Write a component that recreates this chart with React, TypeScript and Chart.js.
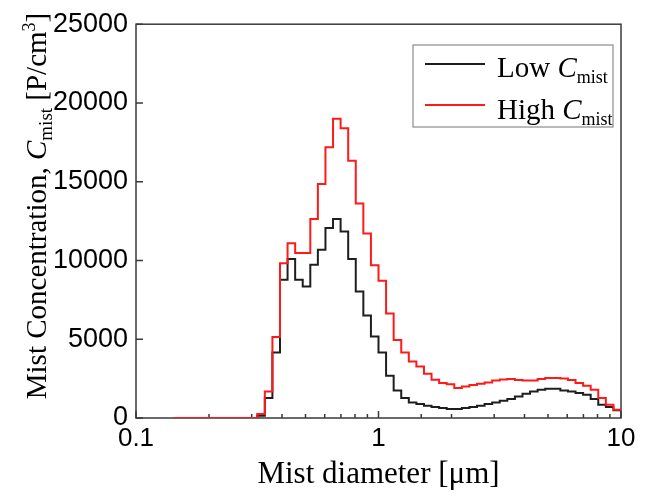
import { useEffect, useRef } from 'react';
import { Chart, registerables } from 'chart.js';

Chart.register(...registerables);

// Bin lower edges (µm), last entry is the upper edge of the last bin
const binEdges = [
  0.1433, 0.154, 0.1655, 0.1778, 0.1911, 0.2054, 0.2207, 0.2371, 0.2548, 0.2738,
  0.2943, 0.3162, 0.3398, 0.3652, 0.3924, 0.4217, 0.4532, 0.487, 0.5233, 0.5623,
  0.6043, 0.6494, 0.6978, 0.7499, 0.8058, 0.866, 0.9306, 1.0, 1.0746, 1.1548,
  1.2409, 1.3335, 1.433, 1.5399, 1.6548, 1.7783, 1.911, 2.0535, 2.2067, 2.3714,
  2.5483, 2.7384, 2.9427, 3.1623, 3.3982, 3.6517, 3.9242, 4.217, 4.5316, 4.8697,
  5.233, 5.6234, 6.043, 6.4938, 6.9783, 7.4989, 8.0584, 8.6596, 9.3057, 10.0,
];

const lowCmist = [
  0, 0, 0, 0, 0, 0, 0, 0, 0, 0, 0,
  150, 1270, 4160, 8780, 10090, 8780, 8350, 9730, 10680, 12060, 12630, 11840, 10090, 8030, 6510, 5180,
  4160, 2680, 1750, 1270, 990, 890, 780, 700, 630, 570, 570, 630, 700, 780, 890, 990,
  1100, 1200, 1370, 1540, 1690, 1800, 1860, 1860, 1750, 1690, 1580, 1480, 1200, 840, 700, 490,
];

const highCmist = [
  0, 0, 0, 0, 0, 0, 0, 0, 0, 0, 0,
  250, 1690, 5140, 9830, 11100, 10470, 10470, 12630, 14850, 17190, 18990, 18400, 16330, 13620, 11720, 9700,
  8720, 6640, 4950, 4160, 3590, 3270, 2810, 2430, 2220, 2150, 1900, 2000, 2100, 2180, 2260, 2380,
  2450, 2470, 2420, 2380, 2380, 2480, 2540, 2540, 2500, 2420, 2220, 2050, 1800, 1270, 840, 530,
];

const yTickValues = [0, 5000, 10000, 15000, 20000, 25000];
const xTickLabels = [0.1, 1, 10];

const seriesNames = ['Low', 'High'];
const subscriptText = 'mist';
const xTitle = 'Mist diameter [μm]';

const SERIF = '"Liberation Serif", "Times New Roman", serif';
const SANS = '"Liberation Sans", Arial, sans-serif';

type Run = { text: string; font: string; dy?: number };

function drawRuns(ctx: CanvasRenderingContext2D, runs: Run[], x: number, y: number) {
  let cx = x;
  for (const r of runs) {
    ctx.font = r.font;
    ctx.fillText(r.text, cx, y + (r.dy || 0));
    cx += ctx.measureText(r.text).width;
  }
}

function runsWidth(ctx: CanvasRenderingContext2D, runs: Run[]) {
  let w = 0;
  for (const r of runs) {
    ctx.font = r.font;
    w += ctx.measureText(r.text).width;
  }
  return w;
}

function toSeries(values: number[]) {
  const pts = values.map((v, i) => ({ x: binEdges[i], y: v }));
  pts.push({ x: binEdges[binEdges.length - 1], y: values[values.length - 1] });
  return pts;
}

const frameColor = '#3a3a3a';

const decorPlugin = {
  id: 'decor',
  beforeDatasetsDraw(chart: any) {
    const { ctx, chartArea: a } = chart;
    const xs = chart.scales.x;
    const ys = chart.scales.y;
    ctx.save();
    ctx.strokeStyle = frameColor;
    ctx.lineWidth = 1.5;
    ctx.strokeRect(a.left, a.top, a.right - a.left, a.bottom - a.top);
    ctx.beginPath();
    for (const t of xs.ticks) {
      const v = t.value;
      const px = xs.getPixelForValue(v);
      const major = xTickLabels.some((l) => Math.abs(v - l) / l < 1e-6);
      const len = major ? 7 : 4;
      ctx.moveTo(px, a.bottom);
      ctx.lineTo(px, a.bottom - len);
    }
    for (const v of yTickValues) {
      const py = ys.getPixelForValue(v);
      ctx.moveTo(a.left, py);
      ctx.lineTo(a.left + 7, py);
    }
    ctx.stroke();
    ctx.restore();
  },
  afterDraw(chart: any) {
    const { ctx, chartArea: a } = chart;
    ctx.save();
    ctx.fillStyle = '#000';
    ctx.textBaseline = 'alphabetic';
    ctx.textAlign = 'left';

    // x-axis title
    const xRuns: Run[] = [{ text: xTitle, font: `31px ${SERIF}` }];
    const xw = runsWidth(ctx, xRuns);
    drawRuns(ctx, xRuns, (a.left + a.right) / 2 - xw / 2, 483);

    // y-axis title (rotated)
    const yRuns: Run[] = [
      { text: 'Mist Concentration, ', font: `29px ${SERIF}` },
      { text: 'C', font: `italic 29px ${SERIF}` },
      { text: subscriptText, font: `19px ${SERIF}`, dy: 6 },
      { text: ' [P/cm', font: `29px ${SERIF}` },
      { text: '3', font: `18px ${SERIF}`, dy: -11 },
      { text: ']', font: `29px ${SERIF}` },
    ];
    const yw = runsWidth(ctx, yRuns);
    ctx.save();
    ctx.translate(46, 206);
    ctx.rotate(-Math.PI / 2);
    drawRuns(ctx, yRuns, -yw / 2, 0);
    ctx.restore();

    // legend
    const lx = 413, ly = 45, lw = 200, lh = 82;
    ctx.strokeStyle = '#8c8c8c';
    ctx.lineWidth = 1.2;
    ctx.strokeRect(lx, ly, lw, lh);
    const colors = ['#1e1e1e', '#ff1a1a'];
    const rowsY = [64, 105];
    const baseY = [77, 119];
    for (let i = 0; i < 2; i++) {
      ctx.strokeStyle = colors[i];
      ctx.lineWidth = 2;
      ctx.beginPath();
      ctx.moveTo(425, rowsY[i]);
      ctx.lineTo(485, rowsY[i]);
      ctx.stroke();
      drawRuns(
        ctx,
        [
          { text: seriesNames[i] + ' ', font: `29px ${SERIF}` },
          { text: 'C', font: `italic 29px ${SERIF}` },
          { text: subscriptText, font: `18px ${SERIF}`, dy: 6 },
        ],
        497,
        baseY[i],
      );
    }
    ctx.restore();
  },
};

export default function App() {
  const ref = useRef<HTMLCanvasElement | null>(null);

  useEffect(() => {
    if (!ref.current) return;
    const chart = new Chart(ref.current, {
      type: 'line',
      data: {
        datasets: [
          {
            label: 'High Cmist',
            data: toSeries(highCmist),
            borderColor: '#ff1a1a',
            borderWidth: 2,
            pointRadius: 0,
            stepped: true,
            fill: false,
          },
          {
            label: 'Low Cmist',
            data: toSeries(lowCmist),
            borderColor: '#1e1e1e',
            borderWidth: 2,
            pointRadius: 0,
            stepped: true,
            fill: false,
          },
        ],
      },
      options: {
        responsive: false,
        animation: false,
        devicePixelRatio: 1,
        layout: { padding: { top: 24, right: 27, left: 0, bottom: 0 } },
        plugins: {
          legend: { display: false },
          tooltip: { enabled: false },
          title: { display: false },
        },
        scales: {
          x: {
            type: 'logarithmic',
            min: 0.1,
            max: 10,
            grid: { display: false, drawTicks: false },
            border: { display: false },
            ticks: {
              autoSkip: false,
              maxRotation: 0,
              padding: 5,
              color: '#000',
              font: { family: SANS, size: 26 },
              callback: (v: any) => {
                const n = Number(v);
                const m = xTickLabels.find((l) => Math.abs(n - l) / l < 1e-6);
                return m !== undefined ? String(m) : '';
              },
            },
            afterFit: (s: any) => {
              s.height = 80;
            },
          },
          y: {
            type: 'linear',
            min: 0,
            max: 25000,
            grid: { display: false, drawTicks: false },
            border: { display: false },
            ticks: {
              stepSize: 5000,
              padding: 8,
              color: '#000',
              font: { family: SANS, size: 27 },
              callback: (v: any) => String(v),
            },
            afterFit: (s: any) => {
              s.width = 136;
            },
          },
        },
      },
      plugins: [decorPlugin],
    });
    return () => chart.destroy();
  }, []);

  return (
    <div style={{ position: 'absolute', left: 0, top: 0, width: 648, height: 498, background: '#fff' }}>
      <canvas ref={ref} width={648} height={498} style={{ display: 'block' }} />
    </div>
  );
}
